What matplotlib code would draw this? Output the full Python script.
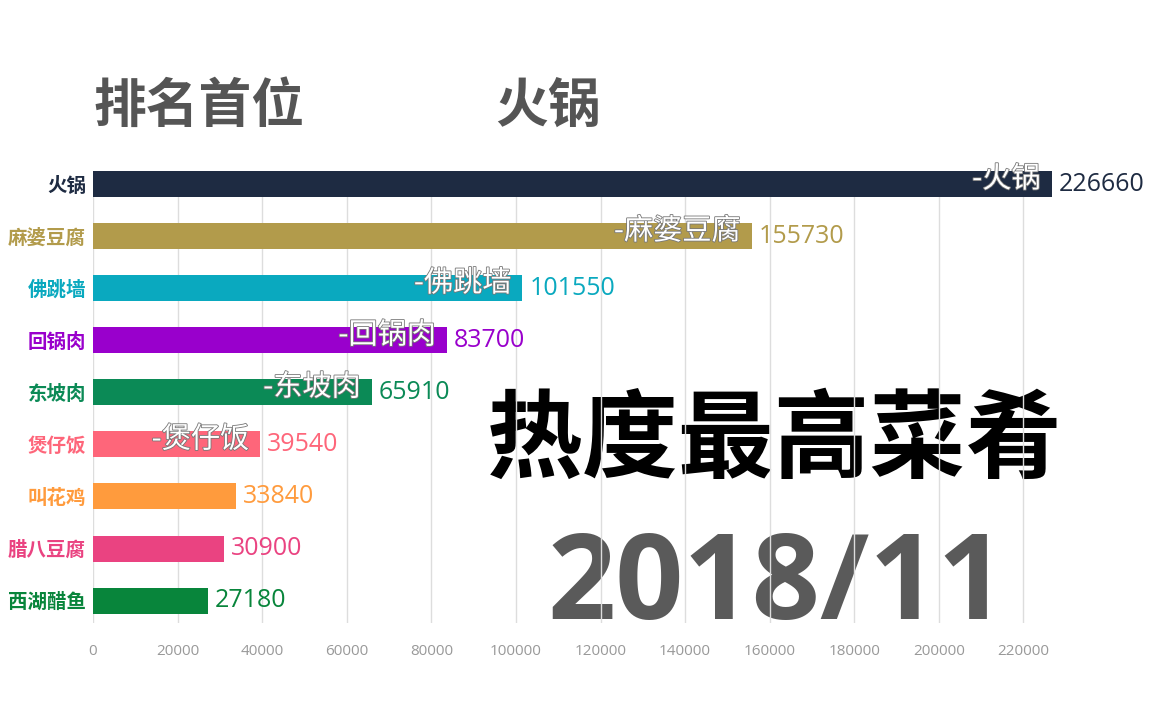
import matplotlib
matplotlib.use("Agg")
import matplotlib.pyplot as plt
import matplotlib.patheffects as pe

# 数据
dishes = ["火锅", "麻婆豆腐", "佛跳墙", "回锅肉", "东坡肉", "煲仔饭", "叫花鸡", "腊八豆腐", "西湖醋鱼"]
heat = [226660, 155730, 101550, 83700, 65910, 39540, 33840, 30900, 27180]
colors = ["#1e2b42", "#b29b4b", "#0aa9bf", "#9900cc", "#0b8a56",
          "#fe667a", "#ff9b3d", "#ea4381", "#08853b"]
inner_shown = ["火锅", "麻婆豆腐", "佛跳墙", "回锅肉", "东坡肉", "煲仔饭"]
xticks = list(range(0, 220001, 20000))
month = "2018/11"

CJK = ["Noto Sans CJK SC", "DejaVu Sans"]
NUM = ["Open Sans", "DejaVu Sans"]

W, H = 1152, 720
fig = plt.figure(figsize=(W / 100, H / 100), dpi=100)
ax = fig.add_axes([93 / W, 1 - 623 / H, (1108 - 93) / W, (623 - 171) / H])
ax.set_facecolor("none")

y = list(range(len(dishes)))
ax.barh(y, heat, height=0.5, color=colors, zorder=2)
ax.set_xlim(0, 240000)
ax.set_ylim(8.43, -0.25)

ax.set_axisbelow(True)
ax.grid(axis="x", color="#dddddd", linewidth=1)
for s in ax.spines.values():
    s.set_visible(False)
ax.set_xticks(xticks)
ax.set_xticklabels([str(t) for t in xticks], family=NUM, fontsize=11, color="#999999")
ax.tick_params(axis="x", length=0, pad=15)
ax.set_yticks(y)
ax.set_yticklabels(dishes, family=CJK, fontsize=14, fontweight="bold")
for lab, c in zip(ax.get_yticklabels(), colors):
    lab.set_color(c)
ax.tick_params(axis="y", length=0, pad=5)

px = 240000 / (1108 - 93)  # 每像素对应的数值
for i, (name, v, c) in enumerate(zip(dishes, heat, colors)):
    ax.text(v + 7 * px, i, str(v), family=NUM, fontsize=18, color=c,
            ha="left", va="center", zorder=3)
    if name in inner_shown:
        ax.text(v - 11 * px, i - 0.09, "-" + name, family=CJK, fontsize=21,
                color="white", ha="right", va="center", zorder=3,
                path_effects=[pe.withStroke(linewidth=1.2, foreground="#777777")])

# 标题与大字
fig.text(93 / W, 1 - 106 / H, "排名首位", family=CJK, fontsize=38,
         fontweight="bold", color="#555555", ha="left", va="center")
fig.text(495 / W, 1 - 106 / H, dishes[0], family=CJK, fontsize=38,
         fontweight="bold", color="#555555", ha="left", va="center")
ax.text(1062 / W, 1 - 442 / H, "热度最高菜肴", transform=fig.transFigure,
        family=CJK, fontsize=69, fontweight="black", color="black",
        ha="right", va="center", zorder=0.1)
ax.text(1006 / W, 1 - 588 / H, month, transform=fig.transFigure,
        family=NUM, fontsize=86, fontweight="bold", color="#5a5a5a",
        ha="right", va="center", zorder=0.1)

fig.savefig("out.png", dpi=100)
